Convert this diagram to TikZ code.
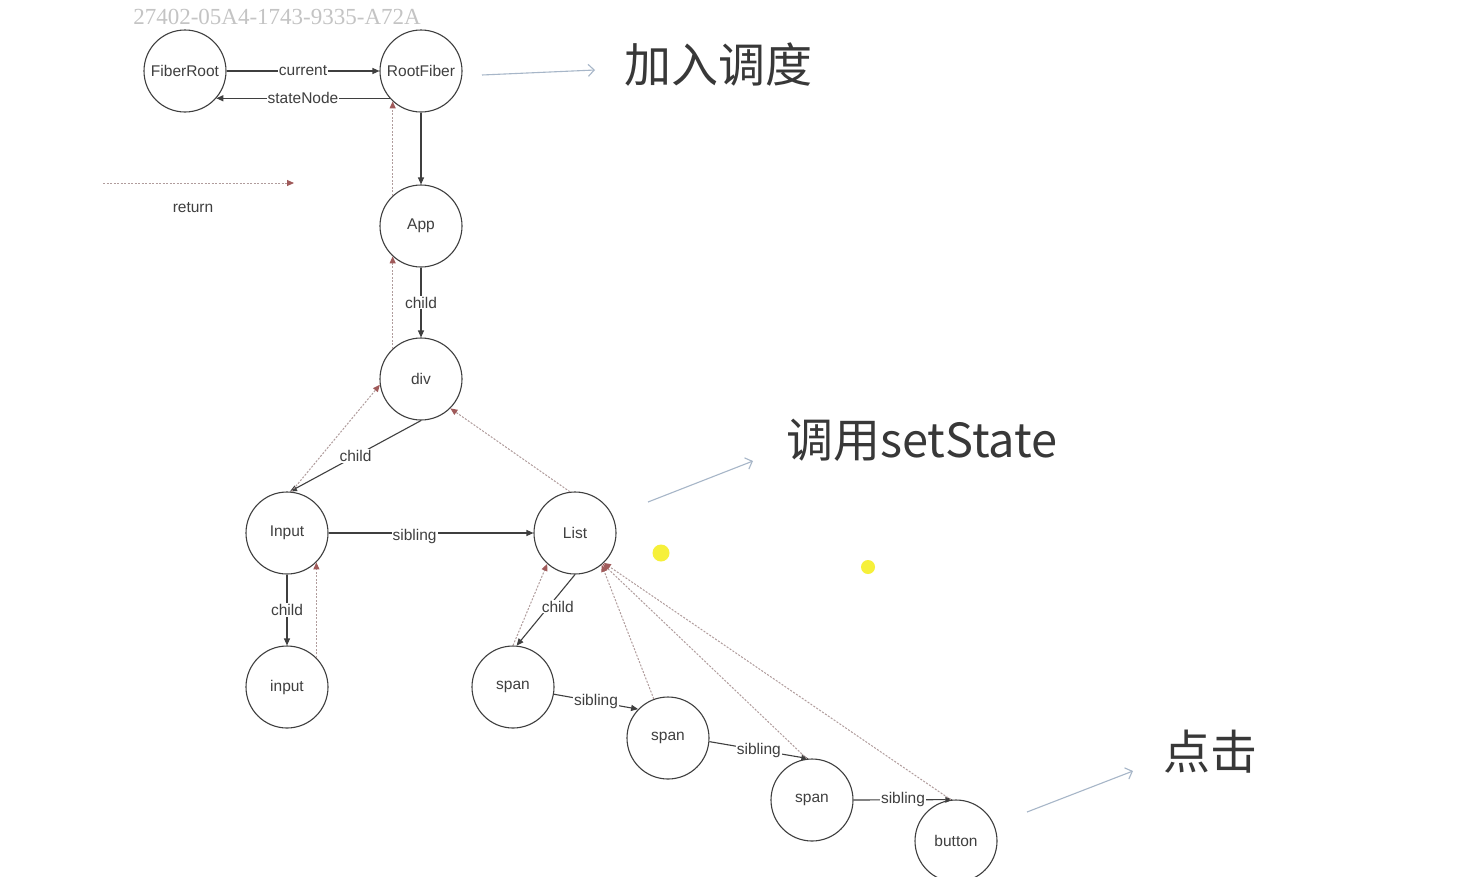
\documentclass[tikz,border=0pt]{standalone}
\usepackage{fontspec}
\setmainfont{Liberation Sans}
\newfontfamily\cjk{Noto Sans CJK SC}
\newfontfamily\wmfont{Liberation Serif}
\usetikzlibrary{arrows.meta}
\definecolor{ink}{HTML}{3F3F3F}
\definecolor{retline}{HTML}{B09C9C}
\definecolor{rethead}{HTML}{A05A5A}
\definecolor{hint}{HTML}{A7B6C8}
\definecolor{hilite}{HTML}{F6F03A}
\definecolor{wm}{HTML}{C4C4C4}
\begin{document}
\begin{tikzpicture}[x=1pt,y=-1pt,
 fnode/.style={circle,draw=ink,line width=1.1pt,minimum size=82pt,inner sep=0pt,font=\fontsize{15.5}{18}\selectfont,text=ink},
 link/.style={draw=ink,line width=1.1pt,-{Triangle[length=7pt,width=6pt]}},
 lbl/.style={fill=white,inner sep=1pt,font=\fontsize{15.5}{18}\selectfont,text=ink},
 ret/.style={draw=retline,line width=1pt,dash pattern=on 2pt off 1.5pt,-{Triangle[length=7pt,width=6pt,color=rethead]}},
 hintarrow/.style={draw=hint,line width=1.1pt,-{Straight Barb[length=6pt,width=12pt]}},
 big/.style={font=\cjk\fontsize{47}{56}\selectfont,text=black!78,inner sep=0pt}
]
\fill[white] (0,0) rectangle (1458,876);
\useasboundingbox (0,0) rectangle (1458,876);

% watermark
\node[font=\wmfont\fontsize{23}{27}\selectfont,text=wm,inner sep=0pt] (wmark) at (277,17) {27402-05A4-1743-9335-A72A};

% nodes
\node[fnode] (FR) at (185,71) {FiberRoot};
\node[fnode] (RF) at (421,71) {RootFiber};
\node[fnode] (App) at (421,226) {App};
\node[fnode] (div) at (421,379) {div};
\node[fnode] (Input) at (287,533) {Input};
\node[fnode] (List) at (575,533) {List};
\node[fnode] (input) at (287,687) {input};
\node[fnode] (s1) at (513,687) {span};
\node[fnode] (s2) at (668,738) {span};
\node[fnode] (s3) at (812,800) {span};
\node[fnode] (btn) at (956,841) {button};

% child / sibling links
\draw[link] (FR.east) -- node[lbl] {current} (RF.west);
\draw[link] (RF.221) -- node[lbl] {stateNode} (FR.-41);
\draw[link] (RF.south) -- (App.north);
\draw[link] (App.south) -- node[lbl] {child} (div.north);
\draw[link] (div.south) -- node[lbl] {child} (Input.86);
\draw[link] (Input.east) -- node[lbl,pos=0.42,yshift=-3pt] {sibling} (List.west);
\draw[link] (Input.south) -- node[lbl] {child} (input.north);
\draw[link] (List.south) -- node[lbl,pos=0.45,xshift=9pt] {child} (s1.85);
\draw[link] (s1.-10) -- node[lbl] {sibling} (s2.136);
\draw[link] (s2.-5) -- node[lbl] {sibling} (s3.95);
\draw[link] (s3.east) -- node[lbl] {sibling} (btn.95);

% return links
\draw[ret] (App.133) -- (RF.227);
\draw[ret] (div.133) -- (App.227);
\draw[ret] (Input.84) -- (div.188);
\draw[ret] (List.97) -- (div.-45);
\draw[ret] (input.45) -- (Input.-45);
\draw[ret] (s1.north) -- (List.228);
\draw[ret] (s2.110) -- (List.-50);
\draw[ret] (s3.97) -- (List.-48);
\draw[ret] (btn.97) -- (List.-46);

% legend
\coordinate (legA) at (103,183);
\coordinate (legB) at (294,183);
\draw[ret] (legA) -- (legB);
\node[lbl] (legT) at (193,208) {return};

% annotations
\node[big] (t1) at (718,65) {加入调度};
\node[big] (t2) at (922,440) {调用setState};
\node[big] (t3) at (1210,752) {点击};
\coordinate (h1a) at (482,75);
\coordinate (h1b) at (595,70);
\coordinate (h2a) at (648,502);
\coordinate (h2b) at (753,461);
\coordinate (h3a) at (1027,812);
\coordinate (h3b) at (1133,771);
\draw[hintarrow] (h1a) -- (h1b);
\draw[hintarrow] (h2a) -- (h2b);
\draw[hintarrow] (h3a) -- (h3b);

% highlight dots
\fill[hilite] (661,553) circle[radius=8.5];
\fill[hilite] (868,567) circle[radius=7];
\end{tikzpicture}
\end{document}
